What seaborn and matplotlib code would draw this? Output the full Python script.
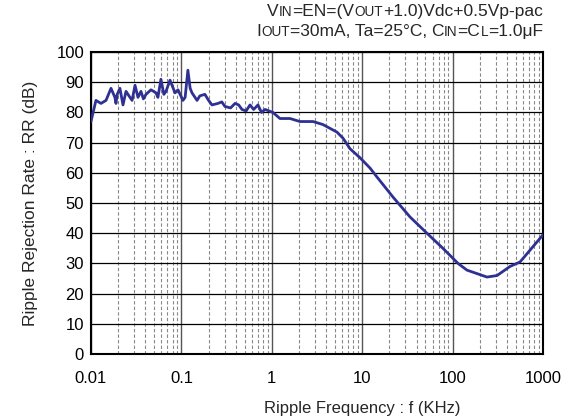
import matplotlib
matplotlib.use("Agg")
import numpy as np
import pandas as pd
import matplotlib.pyplot as plt
import seaborn as sns
from matplotlib.ticker import LogLocator, FixedLocator

# Ripple rejection curve
freq_khz = [0.01, 0.01135, 0.0129, 0.01466, 0.01665, 0.0184, 0.0189, 0.0195,
            0.0209, 0.0226, 0.0244, 0.027, 0.0285, 0.0307, 0.0331, 0.0357,
            0.038, 0.0406, 0.0461, 0.0524, 0.055, 0.0594, 0.064, 0.0676,
            0.0748, 0.08, 0.085, 0.0917, 0.104, 0.11, 0.118, 0.125, 0.131,
            0.149, 0.16, 0.182, 0.2, 0.218, 0.254, 0.28, 0.303, 0.35, 0.392,
            0.43, 0.468, 0.52, 0.574, 0.63, 0.703, 0.77, 0.841, 1.03, 1.23,
            1.59, 2.05, 2.86, 3.68, 5.26, 6.13, 7.33, 9.47, 12.2, 14.6, 21.9,
            33.8, 52.1, 78.3, 115, 144, 240, 310, 431, 557, 718, 1000]
rr_db = [77.0, 84.0, 83.0, 84.0, 88.0, 85.0, 83.0, 86.0,
         88.0, 82.5, 87.0, 85.0, 84.0, 89.0, 85.0, 87.0,
         84.5, 86.0, 87.5, 86.5, 85.0, 91.0, 86.0, 87.0,
         90.7, 88.5, 86.5, 87.5, 84.0, 85.0, 94.0, 88.0, 86.5,
         84.0, 85.5, 86.0, 84.0, 82.5, 83.0, 83.5, 82.0, 81.5, 83.0,
         82.5, 81.0, 80.5, 82.5, 81.0, 82.5, 80.0, 81.0, 80.0, 78.0,
         78.0, 77.0, 77.0, 76.0, 73.5, 71.5, 68.0, 65.0, 61.6, 58.6, 52.0,
         45.4, 40.0, 35.0, 30.0, 27.8, 25.5, 26.0, 29.0, 30.5, 34.4, 39.5]

y_ticks = list(range(0, 101, 10))
x_ticks = [0.01, 0.1, 1, 10, 100, 1000]
x_labels = ["0.01", "0.1", "1", "10", "100", "1000"]

df = pd.DataFrame({"f": freq_khz, "rr": rr_db})

sns.set_style("white")
plt.rcParams["font.family"] = ["Liberation Sans", "DejaVu Sans"]

fig = plt.figure(figsize=(5.81, 4.20), dpi=100)
ax = fig.add_axes([0.1566, 0.157, 0.778, 0.719])

sns.lineplot(data=df, x="f", y="rr", ax=ax, color="#2E3192", linewidth=2.0,
             estimator=None, zorder=5)

ax.set_xscale("log")
ax.set_xlim(0.01, 1000)
ax.set_ylim(0, 100)
ax.xaxis.set_major_locator(FixedLocator(x_ticks))
ax.set_xticklabels(x_labels)
ax.xaxis.set_minor_locator(LogLocator(base=10, subs=np.arange(2, 10)))
ax.set_yticks(y_ticks)

# grid: dashed minor verticals, solid decades, solid horizontals
ax.grid(False)
ax.grid(which="minor", axis="x", color="#888888", linestyle=(0, (3, 2)), linewidth=0.8)
ax.grid(which="major", axis="x", color="#555555", linestyle="-", linewidth=1.0)
ax.grid(which="major", axis="y", color="black", linestyle="-", linewidth=0.9)
ax.set_axisbelow(True)

for s in ax.spines.values():
    s.set_visible(True)
    s.set_color("black")
    s.set_linewidth(1.5)

ax.tick_params(axis="both", which="both", length=0, labelsize=12, colors="black")
ax.tick_params(axis="x", pad=12)
ax.tick_params(axis="y", pad=5)

ax.set_xlabel("Ripple Frequency : f (KHz)", fontsize=12, labelpad=9)
# label in the reference sits under the "10" decade rather than mid-axis
ax.xaxis.set_label_coords(0.6, -0.155)
ax.set_ylabel("Ripple Rejection Rate : RR (dB)", fontsize=12.5, labelpad=13)


def draw_rich(parts, x_right, y, big=12.5, small=9.8):
    # place text pieces from right to left so line ends at x_right (pixels)
    renderer = fig.canvas.get_renderer()
    x = x_right
    for txt, is_small in reversed(parts):
        t = fig.text(x / 581, 1 - y / 420, txt, ha="right", va="baseline",
                     fontsize=small if is_small else big)
        w = t.get_window_extent(renderer=renderer).width
        x -= w


line1 = [("V", False), ("IN", True), ("=EN=(V", False), ("OUT", True),
         ("+1.0)Vdc+0.5Vp-pac", False)]
line2 = [("I", False), ("OUT", True), ("=30mA, Ta=25°C, C", False), ("IN", True),
         ("=C", False), ("L", True), ("=1.0μF", False)]
draw_rich(line1, 543, 16)
draw_rich(line2, 543, 36)

fig.savefig("out.png", dpi=100)
